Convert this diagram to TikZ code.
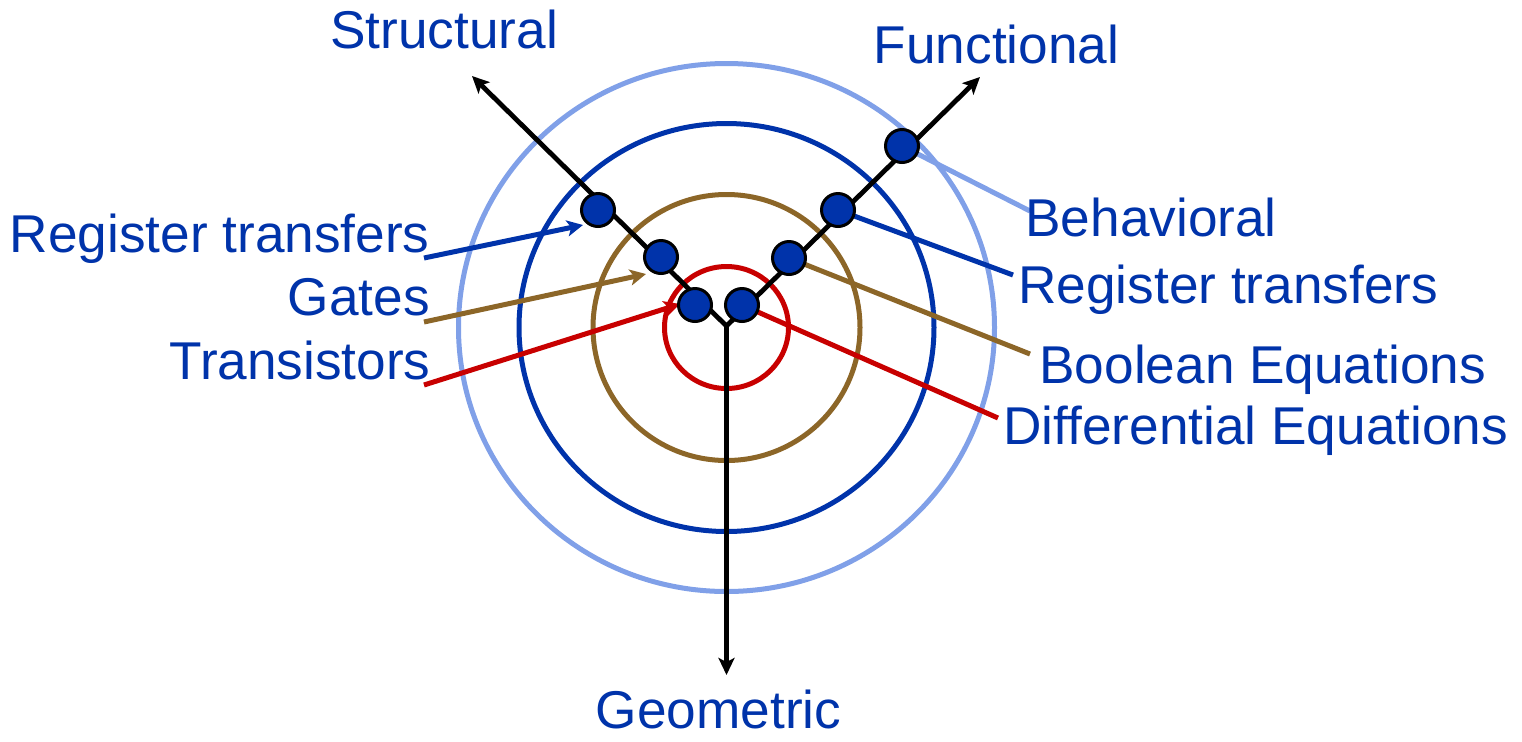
\documentclass[tikz,border=0pt]{standalone}
\usepackage{fontspec}
\setmainfont{Liberation Sans}
\usetikzlibrary{arrows.meta,backgrounds}
\definecolor{txtblue}{RGB}{0,51,170}
\definecolor{dkblue}{RGB}{0,51,170}
\definecolor{ltblue}{RGB}{128,160,232}
\definecolor{ringbrown}{RGB}{140,102,40}
\definecolor{ringred}{RGB}{200,0,0}
\begin{document}
\begin{tikzpicture}[x=0.5pt,y=-0.5pt,
  ring/.style={line width=2.5pt},
  axisline/.style={line width=2.4pt},
  lead/.style={line width=2.5pt},
  leadarrow/.style={line width=2.5pt,-{Stealth[length=8pt,width=8pt,inset=2pt]}},
  dot/.style={circle,draw=black,line width=1.5pt,fill=dkblue,minimum size=16.5pt,inner sep=0pt},
  lbl/.style={font=\fontsize{26.6}{30}\selectfont,text=txtblue,inner sep=0pt}]
\useasboundingbox (0,0) rectangle (1522,741);

% centre and axis end points
\coordinate (C) at (726.5,327.5);
\coordinate (J) at (726.5,326);
\coordinate (TL) at (472,76);
\coordinate (TR) at (980,77);
\coordinate (BT) at (726.5,675);

% dots
\node[dot] (L1) at (598,210) {};
\node[dot] (L2) at (661,257) {};
\node[dot] (L3) at (695,305) {};
\node[dot] (R1) at (742,305) {};
\node[dot] (R2) at (789,258) {};
\node[dot] (R3) at (838,210) {};
\node[dot] (R4) at (902,146) {};

% labels
\node[lbl,anchor=base] (structural) at (444,48) {Structural};
\node[lbl,anchor=base] (functional) at (996.5,63) {Functional};
\node[lbl,anchor=base] (geometric) at (718.5,728) {Geometric};
\node[lbl,anchor=base east] (rtleft) at (430,252) {Register transfers};
\node[lbl,anchor=base east] (gates) at (430,315) {Gates};
\node[lbl,anchor=base east] (transistors) at (431,379) {Transistors};
\node[lbl,anchor=base west] (behavioral) at (1025,236) {Behavioral};
\node[lbl,anchor=base west] (rtright) at (1018,303) {Register transfers};
\node[lbl,anchor=base west] (boolean) at (1039,383) {Boolean Equations};
\node[lbl,anchor=base west] (differential) at (1003,444) {Differential Equations};

% connector end points
\coordinate (sRT) at (424,258);
\coordinate (eRT) at (583,225);
\coordinate (sG) at (424,322);
\coordinate (eG) at (646,274);
\coordinate (sT) at (424,385);
\coordinate (eT) at (680,304);
\coordinate (eBeh) at (1030,211);
\coordinate (eRTr) at (1013,275);
\coordinate (eBool) at (1030,354);
\coordinate (eDiff) at (998,418);

\begin{scope}[on background layer]
  % rings
  \draw[ring,ltblue] (C) ellipse [x radius=134pt, y radius=132pt];
  \draw[ring,dkblue] (C) ellipse [x radius=103.75pt, y radius=102pt];
  \draw[ring,ringbrown] (C) ellipse [x radius=66.75pt, y radius=66.5pt];
  \draw[ring,ringred] (C) ellipse [x radius=31pt, y radius=30.5pt];
  % left leads with arrows
  \draw[leadarrow,dkblue] (sRT) -- (eRT);
  \draw[leadarrow,ringbrown] (sG) -- (eG);
  \draw[leadarrow,ringred] (sT) -- (eT);
  % right leads
  \draw[lead,ltblue] (R4.center) -- (eBeh);
  \draw[lead,dkblue] (R3.center) -- (eRTr);
  \draw[lead,ringbrown] (R2.center) -- (eBool);
  \draw[lead,ringred] (R1.center) -- (eDiff);
  % axes
  \draw[axisline,line join=miter,{Stealth[length=8.5pt,width=8pt,inset=2pt]}-{Stealth[length=8.5pt,width=8pt,inset=2pt]}] (TL) -- (J) -- (TR);
  \draw[axisline,-{Stealth[length=8.5pt,width=8pt,inset=2pt]}] (J) -- (BT);
\end{scope}
\end{tikzpicture}
\end{document}
